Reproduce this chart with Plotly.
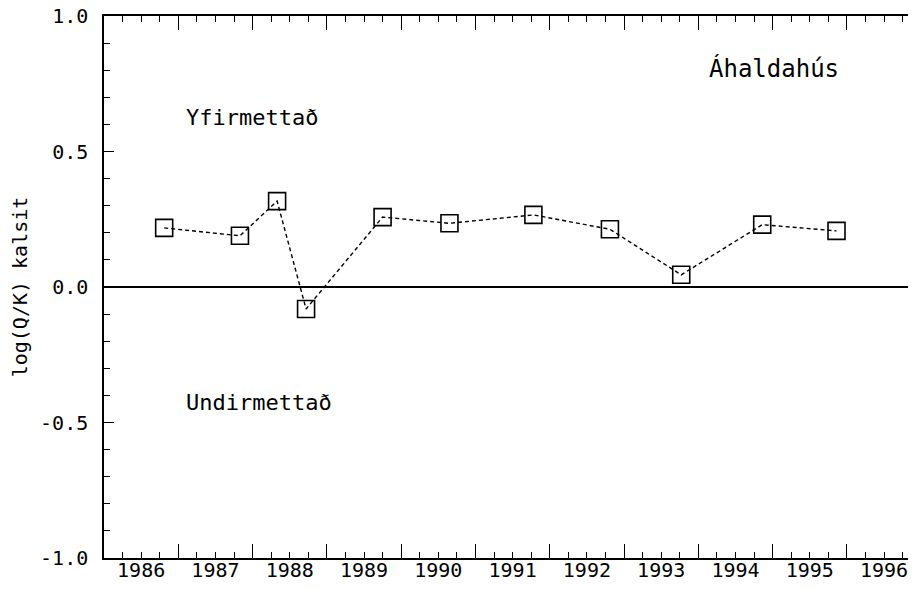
import plotly.graph_objects as go

# Data
sample_time = [1986.81, 1987.83, 1988.33, 1988.72, 1989.75, 1990.65,
               1991.78, 1992.81, 1993.77, 1994.86, 1995.86]
log_qk = [0.218, 0.189, 0.317, -0.081, 0.258, 0.235,
          0.266, 0.213, 0.045, 0.230, 0.207]
years = list(range(1986, 1997))
year_labels = [str(y) for y in years]
y_ticks = [-1.0, -0.5, 0.0, 0.5, 1.0]
y_tick_labels = ["-1.0", "-0.5", "0.0", "0.5", "1.0"]

FONT = "DejaVu Sans Mono"
XR = [1986, 1996.93]

fig = go.Figure()
fig.add_trace(go.Scatter(
    x=sample_time, y=log_qk, mode="lines+markers",
    line=dict(color="black", width=1.4, dash="4px,3px"),
    marker=dict(symbol="square-open", size=17, color="black",
                line=dict(width=1.6, color="black")),
    showlegend=False, hoverinfo="skip"))

# page body has an 8px margin, so the figure is sized/offset to compensate
fig.update_layout(
    width=908, height=581,
    margin=dict(l=96, r=0, t=8, b=31, autoexpand=False),
    paper_bgcolor="white", plot_bgcolor="white",
    font=dict(family=FONT, size=20, color="black"),
    xaxis=dict(range=XR, showgrid=False, zeroline=False, automargin=False,
               showline=True, linecolor="black", linewidth=1.5,
               mirror="ticks", ticks="inside", ticklen=14, tickwidth=1.3,
               tickcolor="black", tickvals=years, showticklabels=False,
               minor=dict(dtick=0.25, tick0=1986, ticks="inside", ticklen=6,
                          tickwidth=1.2, tickcolor="black", showgrid=False)),
    xaxis2=dict(range=XR, overlaying="x", anchor="y", side="bottom",
                automargin=False, ticklabeloverflow="allow",
                showgrid=False, zeroline=False, showline=False, ticks="",
                tickvals=[y + 0.5 for y in years], ticktext=year_labels,
                tickfont=dict(family=FONT, size=20, color="black"),
                ticklabelstandoff=-2),
    yaxis=dict(range=[-1, 1], showgrid=False, zeroline=True, automargin=False,
               ticklabeloverflow="allow",
               zerolinecolor="black", zerolinewidth=1.5,
               showline=True, linecolor="black", linewidth=1.5,
               ticks="inside", ticklen=10, tickwidth=1.3, tickcolor="black",
               tickvals=y_ticks, ticktext=y_tick_labels,
               tickfont=dict(family=FONT, size=20, color="black"),
               ticklabelstandoff=10,
               minor=dict(dtick=0.1, tick0=0, ticks="inside", ticklen=6,
                          tickwidth=1.2, tickcolor="black", showgrid=False),
               title=dict(text="log(Q/K) kalsit", standoff=14,
                          font=dict(family=FONT, size=20, color="black"))),
    yaxis2=dict(range=[-1, 1], overlaying="y", anchor="x", side="right",
                automargin=False,
                showgrid=False, zeroline=False, showline=False,
                ticks="inside", ticklen=7, tickwidth=1.3, tickcolor="black",
                tickvals=y_ticks, showticklabels=False,
                minor=dict(dtick=0.1, tick0=0, ticks="inside", ticklen=3,
                           tickwidth=1.2, tickcolor="black", showgrid=False)),
)

# invisible traces so the overlay axes are drawn
fig.add_trace(go.Scatter(x=[None], y=[None], xaxis="x2", yaxis="y2",
                         showlegend=False, hoverinfo="skip"))

fig.add_annotation(x=1987.99, y=0.627, text="Yfirmettað", showarrow=False,
                   font=dict(family=FONT, size=22, color="black"))
fig.add_annotation(x=1988.09, y=-0.428, text="Undirmettað", showarrow=False,
                   font=dict(family=FONT, size=22, color="black"))
fig.add_annotation(x=1995.02, y=0.805, text="Áhaldahús", showarrow=False,
                   font=dict(family=FONT, size=24, color="black"))

fig.write_html("out.html")
